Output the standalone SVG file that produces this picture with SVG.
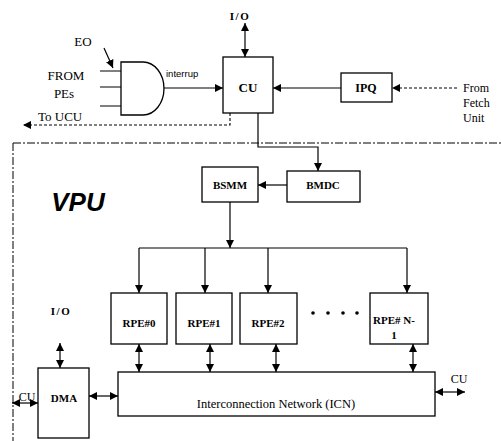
<svg xmlns="http://www.w3.org/2000/svg" width="501" height="441" viewBox="0 0 501 441">
<style>
.box{fill:#fff;stroke:#000;stroke-width:1.3}
.ln{fill:none;stroke:#000;stroke-width:1.2}
.dash{fill:none;stroke:#000;stroke-width:1.1;stroke-dasharray:3,2}
.dd{fill:none;stroke:#000;stroke-width:1;stroke-dasharray:8,2,2,2}
.lb{font-family:"Liberation Serif",serif;font-weight:bold;font-size:11px;text-anchor:middle}
.tx{font-family:"Liberation Serif",serif;font-size:12px}
</style>
<defs>
<marker id="ah" viewBox="0 0 10 10" refX="10" refY="5" markerWidth="8" markerHeight="8" markerUnits="userSpaceOnUse" orient="auto-start-reverse">
<path d="M0,0 L10,5 L0,10 Z" fill="#000"/>
</marker>
</defs>
<rect width="501" height="441" fill="#fff"/>
<g id="boundary">
<path class="dd" d="M13,143 H501 M13,143 V441"/>
</g>
<g id="labels">
<text x="83" y="46" class="tx" style="font-size:13px" text-anchor="middle">EO</text>
<text x="66" y="80" class="tx" style="font-size:13px" text-anchor="middle">FROM</text>
<text x="64" y="98" class="tx" style="font-size:13px" text-anchor="middle">PEs</text>
<text x="38" y="121" class="tx" style="font-size:13px">To UCU</text>
<text x="166" y="77" font-family="Liberation Sans,sans-serif" font-size="9.5">interrup</text>
<text x="240" y="20" class="lb" letter-spacing="1.5">I/O</text>
<text x="463" y="92" class="tx">From</text>
<text x="463" y="107" class="tx">Fetch</text>
<text x="463" y="122" class="tx">Unit</text>
<text x="78" y="211" font-family="Liberation Sans,sans-serif" font-weight="bold" font-style="italic" font-size="26" text-anchor="middle">VPU</text>
<text x="61" y="315" class="lb" letter-spacing="1.5">I/O</text>
<text x="27" y="401" class="tx" text-anchor="middle">CU</text>
<text x="459" y="383" class="tx" text-anchor="middle">CU</text>
<g fill="#000"><circle cx="313" cy="313" r="1.8"/><circle cx="328" cy="313" r="1.8"/><circle cx="343" cy="313" r="1.8"/><circle cx="357" cy="313" r="1.8"/></g>
</g>
<g id="and-gate">
<path class="box" d="M121,62 H143 A21,26.5 0 0 1 143,115 H121 Z"/>
</g>
<g id="cu"><rect class="box" x="223" y="57" width="50" height="56"/><text x="248" y="92" class="lb" style="font-size:13px">CU</text></g>
<g id="ipq"><rect class="box" x="341" y="73" width="51" height="29"/><text x="366" y="92" class="lb" style="font-size:12px">IPQ</text></g>
<g id="bsmm"><rect class="box" x="202" y="167" width="56" height="35"/><text x="230" y="189" class="lb">BSMM</text></g>
<g id="bmdc"><rect class="box" x="287" y="171" width="73" height="31"/><text x="323" y="189" class="lb">BMDC</text></g>
<g id="rpe0"><rect class="box" x="111" y="293" width="56" height="51"/><text x="139" y="327" class="lb">RPE#0</text></g>
<g id="rpe1"><rect class="box" x="176" y="293" width="56" height="51"/><text x="204" y="327" class="lb">RPE#1</text></g>
<g id="rpe2"><rect class="box" x="240" y="293" width="57" height="51"/><text x="268" y="327" class="lb">RPE#2</text></g>
<g id="rpen"><rect class="box" x="370" y="293" width="58" height="51"/><text x="394" y="324" class="lb">RPE# N-</text><text x="394" y="339" class="lb">1</text></g>
<g id="dma"><rect class="box" x="38" y="368" width="51" height="70"/><text x="64" y="402" class="lb">DMA</text></g>
<g id="icn"><rect class="box" x="118" y="372" width="317" height="44"/><text x="276" y="408" class="tx" style="font-size:12.5px" text-anchor="middle">Interconnection Network (ICN)</text></g>
<g id="connectors">
<path class="ln" d="M100,71 H121 M100,87 H121 M100,106 H121"/>
<path class="ln" d="M104,48 L113,68" marker-end="url(#ah)"/>
<path class="ln" d="M164,88 H223" marker-end="url(#ah)"/>
<path class="ln" d="M245,23 V57" marker-start="url(#ah)" marker-end="url(#ah)"/>
<path class="ln" d="M341,88 H273" marker-end="url(#ah)"/>
<path class="dash" d="M457,88 H392" marker-end="url(#ah)"/>
<path class="dash" d="M230,113 V125 H23" marker-end="url(#ah)"/>
<path class="ln" d="M258,113 V147 H318 V171" marker-end="url(#ah)"/>
<path class="ln" d="M287,185 H258" marker-end="url(#ah)"/>
<path class="ln" d="M230,202 V248" marker-end="url(#ah)"/>
<path class="ln" d="M139,248 H407"/>
<path class="ln" d="M139,248 V293" marker-end="url(#ah)"/>
<path class="ln" d="M205,248 V293" marker-end="url(#ah)"/>
<path class="ln" d="M268,248 V293" marker-end="url(#ah)"/>
<path class="ln" d="M407,248 V293" marker-end="url(#ah)"/>
<path class="ln" d="M139,344 V372" marker-start="url(#ah)" marker-end="url(#ah)"/>
<path class="ln" d="M210,344 V372" marker-start="url(#ah)" marker-end="url(#ah)"/>
<path class="ln" d="M276,344 V372" marker-start="url(#ah)" marker-end="url(#ah)"/>
<path class="ln" d="M413,344 V372" marker-start="url(#ah)" marker-end="url(#ah)"/>
<path class="ln" d="M60,343 V368" marker-start="url(#ah)" marker-end="url(#ah)"/>
<path class="ln" d="M89,396 H118" marker-start="url(#ah)" marker-end="url(#ah)"/>
<path class="ln" d="M12,403 H38" marker-start="url(#ah)" marker-end="url(#ah)"/>
<path class="ln" d="M435,392 H465" marker-start="url(#ah)" marker-end="url(#ah)"/>
</g>
</svg>
